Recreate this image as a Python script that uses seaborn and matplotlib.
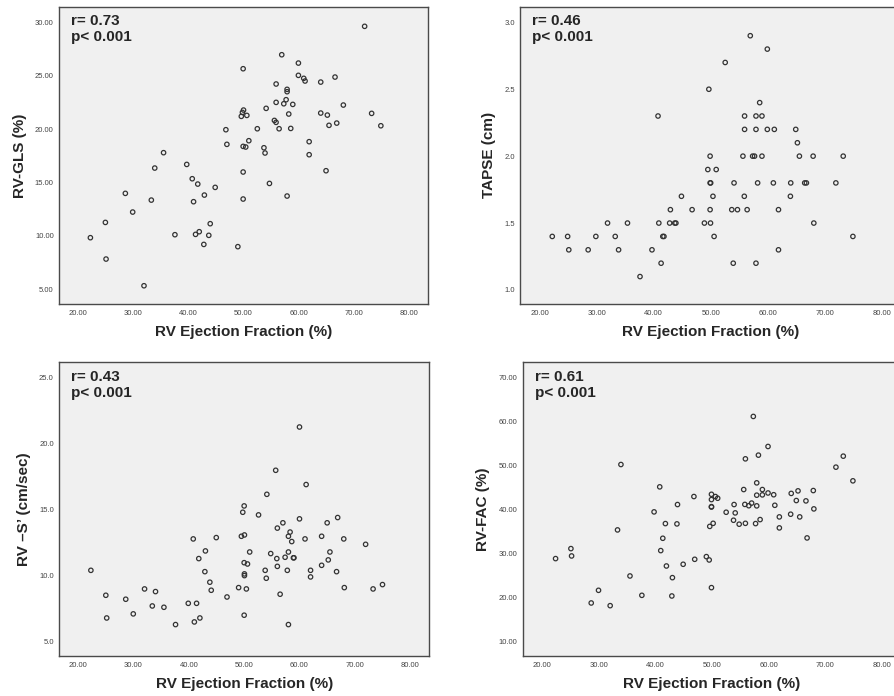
import numpy as np
import pandas as pd
import seaborn as sns
import matplotlib.pyplot as plt

# RV-GLS vs RVEF
gls_ef = [71.96, 56.93, 59.95, 49.93, 59.95, 60.92, 61.16, 66.59, 64.0, 55.91,
          57.9, 57.9, 57.72, 57.3, 58.93, 55.91, 68.1, 54.1, 50.0, 49.8,
          49.6, 50.6, 58.2, 64.0, 65.2, 73.23, 55.6, 55.9, 66.9, 65.5,
          74.9, 46.8, 52.5, 56.45, 58.56, 50.96, 61.9, 46.98, 49.93, 50.4,
          53.7, 53.9, 35.5, 61.9, 39.7, 33.9, 64.96, 49.93, 40.7, 41.7,
          44.86, 54.7, 28.57, 42.9, 33.28, 40.94, 49.93, 57.9, 29.9, 24.95,
          43.96, 22.23, 37.56, 41.97, 41.3, 43.7, 42.8, 48.97, 25.07, 31.95]
gls = [29.63, 26.97, 26.19, 25.66, 25.04, 24.76, 24.51, 24.88, 24.41, 24.23,
       23.73, 23.51, 22.76, 22.38, 22.32, 22.51, 22.26, 21.95, 21.79, 21.57,
       21.2, 21.29, 21.42, 21.51, 21.32, 21.48, 20.82, 20.64, 20.57, 20.36,
       20.32, 19.95, 20.04, 20.04, 20.07, 18.92, 18.83, 18.58, 18.39, 18.33,
       18.26, 17.77, 17.8, 17.61, 16.7, 16.36, 16.11, 15.99, 15.36, 14.86,
       14.55, 14.92, 13.99, 13.83, 13.36, 13.21, 13.46, 13.74, 12.24, 11.27,
       11.15, 9.84, 10.12, 10.4, 10.15, 10.06, 9.21, 9.0, 7.84, 5.34]

# TAPSE vs RVEF
tapse_ef = [56.95, 59.94, 52.55, 49.68, 58.6, 40.76, 55.95, 57.95, 59.0, 55.95,
            57.95, 59.94, 61.17, 64.93, 65.22, 49.9, 55.66, 57.36, 57.7, 59.0,
            65.57, 67.98, 73.26, 49.5, 50.97, 49.9, 50.0, 54.1, 58.24, 61.0,
            64.05, 66.5, 66.8, 71.97, 44.87, 50.4, 55.9, 63.99, 42.93, 46.74,
            49.9, 53.7, 54.7, 56.4, 61.9, 31.9, 35.4, 40.9, 42.8, 43.7,
            43.9, 48.9, 49.97, 68.1, 22.2, 24.9, 29.85, 33.25, 41.6, 41.8,
            50.6, 74.96, 25.1, 28.5, 33.84, 39.7, 61.9, 41.3, 53.96, 57.95,
            37.6]
tapse = [2.9, 2.8, 2.7, 2.5, 2.4, 2.3, 2.3, 2.3, 2.3, 2.2,
         2.2, 2.2, 2.2, 2.2, 2.1, 2.0, 2.0, 2.0, 2.0, 2.0,
         2.0, 2.0, 2.0, 1.9, 1.9, 1.8, 1.8, 1.8, 1.8, 1.8,
         1.8, 1.8, 1.8, 1.8, 1.7, 1.7, 1.7, 1.7, 1.6, 1.6,
         1.6, 1.6, 1.6, 1.6, 1.6, 1.5, 1.5, 1.5, 1.5, 1.5,
         1.5, 1.5, 1.5, 1.5, 1.4, 1.4, 1.4, 1.4, 1.4, 1.4,
         1.4, 1.4, 1.3, 1.3, 1.3, 1.3, 1.3, 1.2, 1.2, 1.2,
         1.1]

# RV S' vs RVEF
s_ef = [60.0, 55.7, 61.2, 54.1, 50.0, 49.75, 52.6, 66.9, 60.0, 57.0,
        65.0, 56.0, 58.3, 50.05, 49.5, 58.0, 58.6, 64.0, 40.8, 44.96,
        61.0, 68.0, 71.95, 43.0, 51.0, 54.8, 58.0, 65.5, 41.8, 55.9,
        57.4, 58.9, 59.0, 65.2, 50.0, 50.6, 56.0, 64.0, 53.8, 57.8,
        62.0, 22.3, 66.7, 42.9, 50.05, 50.05, 62.0, 54.0, 43.8, 75.0,
        49.0, 68.1, 73.3, 32.0, 50.4, 44.05, 33.98, 56.5, 25.0, 46.9,
        28.6, 39.9, 41.4, 33.4, 35.5, 29.96, 50.0, 25.16, 42.0, 41.0,
        37.6, 58.0]
s_vel = [21.26, 17.98, 16.9, 16.16, 15.28, 14.8, 14.6, 14.4, 14.3, 14.0,
         14.0, 13.6, 13.3, 13.08, 12.98, 12.98, 12.58, 12.98, 12.78, 12.88,
         12.78, 12.78, 12.37, 11.87, 11.79, 11.67, 11.79, 11.79, 11.29, 11.29,
         11.39, 11.35, 11.35, 11.19, 10.98, 10.88, 10.7, 10.78, 10.4, 10.4,
         10.4, 10.4, 10.3, 10.3, 10.13, 10.0, 9.9, 9.8, 9.5, 9.32,
         9.09, 9.09, 8.99, 8.99, 8.99, 8.89, 8.79, 8.59, 8.51, 8.38,
         8.21, 7.9, 7.9, 7.7, 7.6, 7.1, 7.0, 6.79, 6.79, 6.49,
         6.29, 6.29]

# RV-FAC vs RVEF
fac_ef = [57.3, 59.9, 58.2, 73.2, 55.9, 33.9, 71.9, 74.9, 57.9, 40.76,
          55.6, 58.9, 67.9, 65.2, 49.9, 59.9, 60.9, 64.0, 57.9, 58.9,
          50.6, 51.0, 46.8, 49.9, 64.9, 66.6, 57.0, 56.5, 55.8, 53.9,
          43.9, 57.9, 61.1, 49.9, 49.9, 68.0, 39.76, 52.5, 54.1, 63.9,
          61.9, 65.5, 53.8, 58.5, 54.8, 55.9, 57.7, 50.2, 49.6, 41.76,
          43.8, 61.9, 33.3, 41.3, 66.8, 25.06, 25.18, 22.35, 40.94, 49.0,
          49.5, 46.94, 44.9, 41.94, 35.5, 43.0, 49.9, 29.94, 37.6, 42.9,
          28.65, 32.0]
fac = [61.2, 54.37, 52.4, 52.17, 51.56, 50.27, 49.67, 46.56, 46.1, 45.19,
       44.58, 44.58, 44.35, 44.28, 43.5, 43.8, 43.4, 43.7, 43.3, 43.37,
       42.99, 42.6, 42.99, 42.3, 42.08, 42.0, 41.5, 40.9, 41.2, 41.17,
       41.17, 40.87, 41.0, 40.6, 40.7, 40.18, 39.5, 39.42, 39.27, 38.97,
       38.36, 38.36, 37.6, 37.75, 36.7, 36.9, 36.84, 36.9, 36.2, 36.84,
       36.77, 35.86, 35.4, 33.5, 33.58, 31.15, 29.48, 28.88, 30.7, 29.33,
       28.57, 28.72, 27.59, 27.2, 24.93, 24.55, 22.28, 21.67, 20.53, 20.38,
       18.79, 18.18]

sns.set_theme(style="white")
plt.rcParams['font.family'] = ['Liberation Sans', 'DejaVu Sans']

fig = plt.figure(figsize=(8.95, 6.96), dpi=100)

panels = [
    # x, y, ylabel, ylim, yticks, fmt, r, axes rect
    (gls_ef, gls, 'RV-GLS (%)', (3.63, 31.47), [5, 10, 15, 20, 25, 30], '{:.2f}', '0.73',
     [0.0663, 0.5632, 0.4116, 0.4272]),
    (tapse_ef, tapse, 'TAPSE (cm)', (0.895, 3.117), [1.0, 1.5, 2.0, 2.5, 3.0], '{:.1f}', '0.46',
     [0.5814, 0.5632, 0.4253, 0.4272]),
    (s_ef, s_vel, 'RV \u2013S\u2019 (cm/sec)', (3.91, 26.16), [5, 10, 15, 20, 25], '{:.1f}', '0.43',
     [0.0663, 0.0575, 0.4130, 0.4219]),
    (fac_ef, fac, 'RV-FAC (%)', (6.74, 73.5), [10, 20, 30, 40, 50, 60, 70], '{:.2f}', '0.61',
     [0.5844, 0.0575, 0.4223, 0.4219]),
]

for xs, ys, ylab, ylim, yt, fmt, r, rect in panels:
    ax = fig.add_axes(rect)
    df = pd.DataFrame({'ef': xs, 'val': ys})
    sns.scatterplot(data=df, x='ef', y='val', ax=ax, s=10, marker='o',
                    facecolor='none', edgecolor='#333333', linewidth=0.9)
    ax.set_facecolor('#f0f0f0')
    ax.set_xlim(16.6, 83.4)
    ax.set_ylim(*ylim)
    xt = [20, 30, 40, 50, 60, 70, 80]
    ax.set_xticks(xt)
    ax.set_xticklabels(['{:.2f}'.format(v) for v in xt])
    ax.set_yticks(yt)
    ax.set_yticklabels([fmt.format(v) for v in yt])
    ax.tick_params(axis='both', labelsize=5.5, colors='#555555', labelcolor='#444444',
                   width=0.8, direction='out')
    ax.tick_params(axis='y', length=3, pad=1)
    ax.tick_params(axis='x', length=2, pad=2)
    for sp in ax.spines.values():
        sp.set_color('#4a4a4a')
        sp.set_linewidth(1.0)
    ax.set_xlabel('RV Ejection Fraction (%)', fontsize=11, fontweight='bold', labelpad=6)
    ax.set_ylabel(ylab, fontsize=11, fontweight='bold', labelpad=6)
    ax.text(0.031, 0.975, 'r= ' + r + '\np< 0.001', transform=ax.transAxes,
            ha='left', va='top', fontsize=11, fontweight='bold', linespacing=1.2)

plt.savefig('out.png', dpi=100)
